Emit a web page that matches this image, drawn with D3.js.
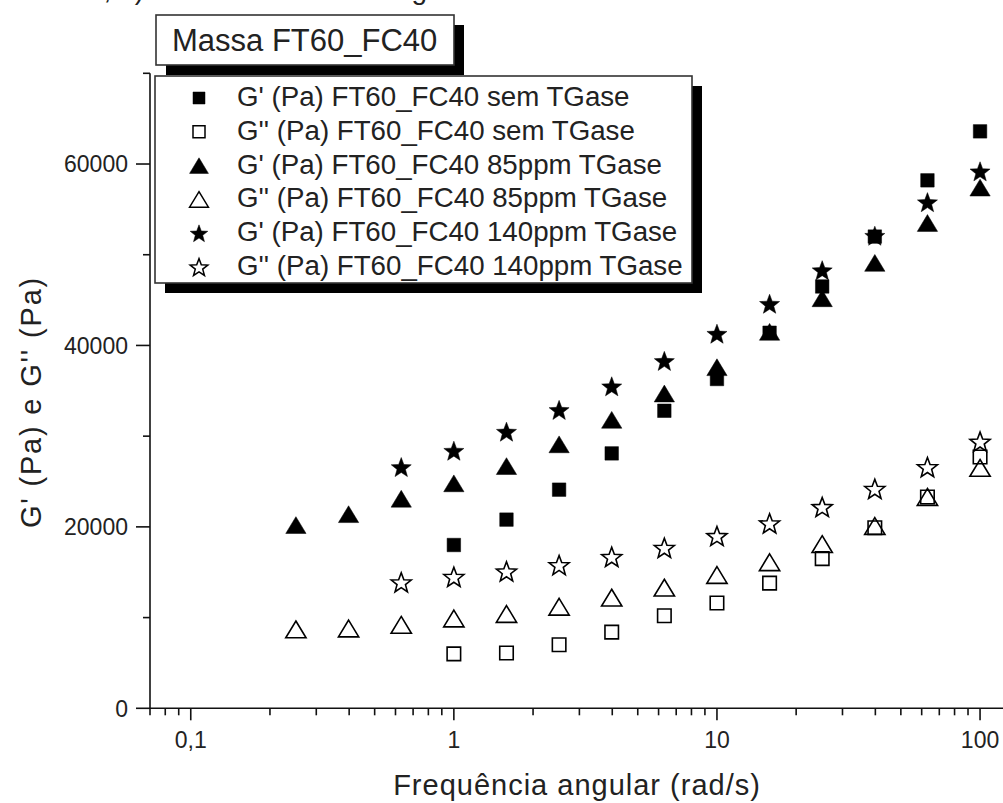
<!DOCTYPE html>
<html>
<head>
<meta charset="utf-8">
<script src="https://cdn.jsdelivr.net/npm/d3@7"></script>
<style>
  body { margin: 0; background: #fff; }
  svg { display: block; font-family: "Liberation Sans", Arial, sans-serif; }
</style>
</head>
<body>
<div id="chart"></div>
<script>
// angular frequency (rad/s)
const freq = [0.251, 0.398, 0.631, 1, 1.585, 2.512, 3.981, 6.31, 10, 15.85, 25.12, 39.81, 63.1, 100];
// moduli (Pa), null = not measured
const gpSem   = [null, null, null, 18000, 20800, 24100, 28100, 32800, 36300, 41400, 46500, 52000, 58200, 63600];
const gppSem  = [null, null, null, 6000, 6100, 7000, 8400, 10200, 11600, 13800, 16500, 19900, 23300, 27700];
const gp85    = [20200, 21400, 23100, 24800, 26700, 29100, 31800, 34700, 37600, 41500, 45200, 49100, 53500, 57400];
const gpp85   = [8700, 8800, 9200, 9900, 10400, 11200, 12200, 13300, 14700, 16100, 18100, 20100, 23300, 26500];
const gp140   = [null, null, 26600, 28400, 30500, 32900, 35500, 38300, 41300, 44600, 48300, 52100, 55800, 59200];
const gpp140  = [null, null, 13900, 14500, 15100, 15800, 16700, 17700, 19000, 20400, 22200, 24200, 26600, 29400];

const seriesNames = [
  "G' (Pa) FT60_FC40 sem TGase",
  "G'' (Pa) FT60_FC40 sem TGase",
  "G' (Pa) FT60_FC40 85ppm TGase",
  "G'' (Pa) FT60_FC40 85ppm TGase",
  "G' (Pa) FT60_FC40 140ppm TGase",
  "G'' (Pa) FT60_FC40 140ppm TGase"
];
const seriesValues = [gpSem, gppSem, gp85, gpp85, gp140, gpp140];
const seriesShapes = ["square", "square", "triangle", "triangle", "star", "star"];
const seriesFilled = [true, false, true, false, true, false];

const xMajor = [0.1, 1, 10, 100];
const xMajorLabels = ["0,1", "1", "10", "100"];
const yMajor = [0, 20000, 40000, 60000];
const yMinor = [10000, 30000, 50000, 70000];

const width = 1003, height = 803;
const decade = 263.1;
const left = 150, bottom = 708.3;

const svg = d3.select("#chart").append("svg")
  .attr("width", width)
  .attr("height", height);

const x = d3.scaleLog()
  .domain([0.07, 125])
  .range([left, left + decade * Math.log10(125 / 0.07)]);

const y = d3.scaleLinear()
  .domain([0, 70000])
  .range([bottom, 73.3]);

// marker shapes, centred on their bounding box
function markerPath(shape, s) {
  if (shape === "square") {
    const h = s / 2;
    return `M${-h},${-h}H${h}V${h}H${-h}Z`;
  }
  if (shape === "triangle") {
    const w = s * 1.45, hh = s * 1.2;
    return `M0,${-hh / 2}L${w / 2},${hh / 2}L${-w / 2},${hh / 2}Z`;
  }
  // star
  const R = s * 0.62, r = R * 0.42;
  let p = "";
  for (let i = 0; i < 10; i++) {
    const a = -Math.PI / 2 + i * Math.PI / 5;
    const rad = i % 2 === 0 ? R : r;
    p += (i === 0 ? "M" : "L") + (rad * Math.cos(a)).toFixed(2) + "," + (rad * Math.sin(a) + R * 0.1).toFixed(2);
  }
  return p + "Z";
}

// cut-off caption line at the very top (only descenders are visible)
svg.append("text").attr("x", 88).attr("y", -1).attr("font-size", 28).attr("fill", "#222").text("a, b)");
svg.append("text").attr("x", 396).attr("y", -1).attr("font-size", 28).attr("fill", "#222").text("ng");

// axes lines
svg.append("line")
  .attr("x1", left).attr("x2", width)
  .attr("y1", bottom).attr("y2", bottom)
  .attr("stroke", "#111").attr("stroke-width", 1.6);
svg.append("line")
  .attr("x1", left).attr("x2", left)
  .attr("y1", bottom).attr("y2", y(70000))
  .attr("stroke", "#111").attr("stroke-width", 1.6);

// x ticks
const xMinor = x.ticks().filter(d => d >= 0.07 && d <= 100 && !xMajor.includes(d));
svg.append("g").selectAll("line")
  .data(xMinor).join("line")
  .attr("x1", d => x(d)).attr("x2", d => x(d))
  .attr("y1", bottom).attr("y2", bottom + 7)
  .attr("stroke", "#111").attr("stroke-width", 1.6);
svg.append("g").selectAll("line")
  .data(xMajor).join("line")
  .attr("x1", d => x(d)).attr("x2", d => x(d))
  .attr("y1", bottom).attr("y2", bottom + 12)
  .attr("stroke", "#111").attr("stroke-width", 1.6);
svg.append("g").selectAll("text")
  .data(xMajor).join("text")
  .attr("x", d => x(d))
  .attr("y", 748)
  .attr("text-anchor", "middle")
  .attr("font-size", 23)
  .attr("fill", "#222")
  .text((d, i) => xMajorLabels[i]);

// y ticks
svg.append("g").selectAll("line")
  .data(yMinor).join("line")
  .attr("x1", left - 7).attr("x2", left)
  .attr("y1", d => y(d)).attr("y2", d => y(d))
  .attr("stroke", "#111").attr("stroke-width", 1.6);
svg.append("g").selectAll("line")
  .data(yMajor).join("line")
  .attr("x1", left - 14).attr("x2", left)
  .attr("y1", d => y(d)).attr("y2", d => y(d))
  .attr("stroke", "#111").attr("stroke-width", 1.6);
svg.append("g").selectAll("text")
  .data(yMajor).join("text")
  .attr("x", 128)
  .attr("y", d => y(d))
  .attr("dy", "0.36em")
  .attr("text-anchor", "end")
  .attr("font-size", 23)
  .attr("fill", "#222")
  .text(d => d);

// axis titles
svg.append("text")
  .attr("x", 577)
  .attr("y", 795)
  .attr("text-anchor", "middle")
  .attr("font-size", 29)
  .attr("letter-spacing", 1)
  .attr("fill", "#222")
  .text("Frequência angular (rad/s)");

svg.append("text")
  .attr("transform", "translate(41,402) rotate(-90)")
  .attr("text-anchor", "middle")
  .attr("font-size", 29)
  .attr("letter-spacing", 1.8)
  .attr("fill", "#222")
  .text("G' (Pa) e G'' (Pa)");

// data markers
seriesValues.forEach((vals, si) => {
  const pts = freq.map((f, i) => ({ f, v: vals[i] })).filter(d => d.v !== null);
  const size = seriesShapes[si] === "square" ? 13.5 : (seriesShapes[si] === "triangle" ? 14 : 17);
  svg.append("g").selectAll("path")
    .data(pts).join("path")
    .attr("transform", d => `translate(${x(d.f)},${y(d.v)})`)
    .attr("d", markerPath(seriesShapes[si], size))
    .attr("fill", seriesFilled[si] ? "#000" : "none")
    .attr("stroke", "#000")
    .attr("stroke-width", seriesFilled[si] ? 0.5 : 1.6)
    .attr("stroke-linejoin", "miter");
});

// title box
svg.append("rect").attr("x", 166).attr("y", 25).attr("width", 298).attr("height", 50).attr("fill", "#000");
svg.append("rect").attr("x", 156).attr("y", 15).attr("width", 298).attr("height", 50)
  .attr("fill", "#fff").attr("stroke", "#333").attr("stroke-width", 1.6);
svg.append("text")
  .attr("x", 172).attr("y", 51)
  .attr("font-size", 31)
  .attr("fill", "#222")
  .text("Massa FT60_FC40");

// legend box
svg.append("rect").attr("x", 165).attr("y", 86).attr("width", 537).attr("height", 207).attr("fill", "#000");
svg.append("rect").attr("x", 155).attr("y", 76).attr("width", 537).attr("height", 207)
  .attr("fill", "#fff").attr("stroke", "#333").attr("stroke-width", 1.6);

const legend = svg.append("g").selectAll("g")
  .data(seriesNames).join("g")
  .attr("transform", (d, i) => `translate(0,${98 + i * 33.8})`);

legend.append("path")
  .attr("transform", "translate(199,0)")
  .attr("d", (d, i) => markerPath(seriesShapes[i], seriesShapes[i] === "square" ? 12 : (seriesShapes[i] === "triangle" ? 13 : 15)))
  .attr("fill", (d, i) => seriesFilled[i] ? "#000" : "none")
  .attr("stroke", "#000")
  .attr("stroke-width", (d, i) => seriesFilled[i] ? 0.5 : 1.5);

legend.append("text")
  .attr("x", 237)
  .attr("y", 8)
  .attr("font-size", 27.7)
  .attr("fill", "#222")
  .text(d => d);
</script>
</body>
</html>
